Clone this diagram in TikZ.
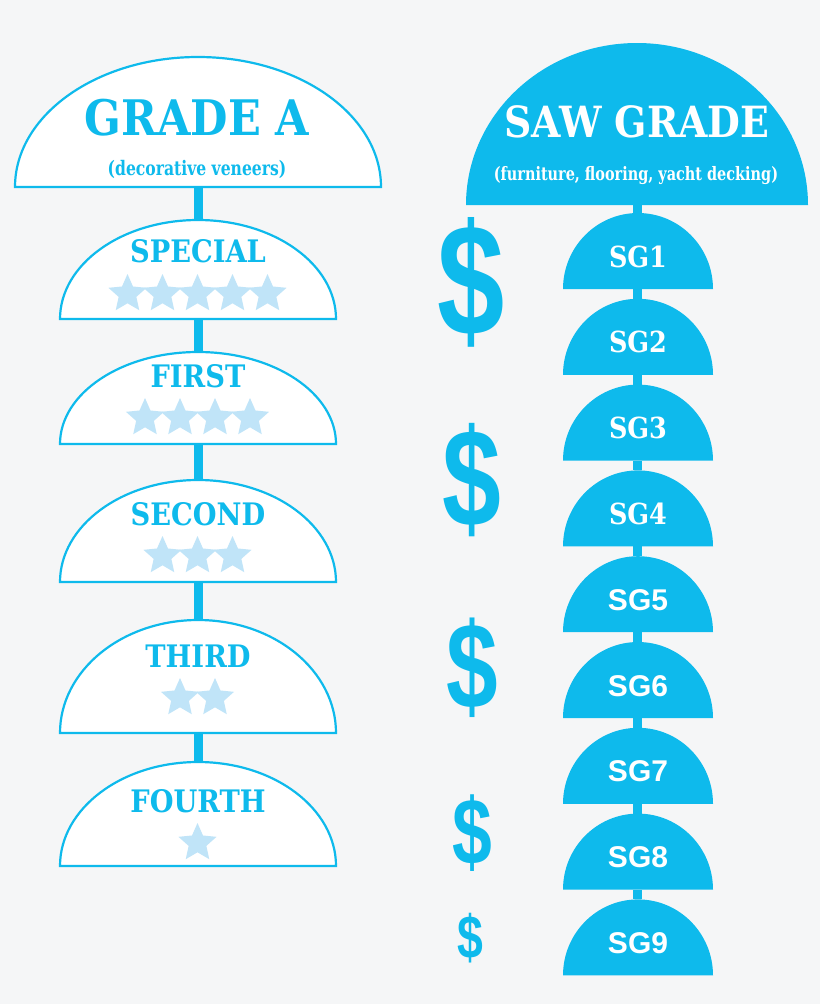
\documentclass[tikz,border=0pt]{standalone}
\usepackage{fontspec}
\usetikzlibrary{shapes.geometric}

\newfontfamily\slabfont{DejaVu Serif}[FakeStretch=0.88]
\newfontfamily\slabnarrow{DejaVu Serif}[FakeStretch=0.78]
\newfontfamily\plainsans{Liberation Sans}
\newfontfamily\dollarfont{Liberation Sans}[FakeStretch=0.76]

\definecolor{gradeblue}{RGB}{14,186,236}
\definecolor{starblue}{RGB}{192,228,248}
\definecolor{paper}{RGB}{245,246,247}

\tikzset{
  stem/.style={gradeblue,line width=9pt},
  hollowdome/.style={draw=gradeblue,fill=white,line width=2.2pt},
  soliddome/.style={fill=gradeblue},
  gradelabel/.style={text=gradeblue,anchor=base,inner sep=0pt,
    font=\slabfont\bfseries\fontsize{31}{31}\selectfont},
  sublabel/.style={anchor=base,inner sep=0pt},
  sglabel/.style={text=white,anchor=base,inner sep=0pt},
  gradestar/.style={star,star points=5,star point ratio=2.15,minimum size=40pt,
    inner sep=0pt,fill=starblue},
  dollar/.style={text=gradeblue,inner sep=0pt,font=\dollarfont\bfseries}
}

\begin{document}
\begin{tikzpicture}[x=1pt,y=-1pt]
  \fill[paper] (0,0) rectangle (820,1004);
  \useasboundingbox (0,0) rectangle (820,1004);

  % grade A column
  \coordinate (gradeA-base) at (198,187);
  \foreach \name/\top/\base in {special/220/319,first/352/444,second/480/582,third/620/733,fourth/762/866}{
    \coordinate (\name-top) at (198,\top);
    \coordinate (\name-base) at (198,\base);
  }
  \foreach \a/\b in {gradeA/special,special/first,first/second,second/third,third/fourth}
    \draw[stem] (\a-base) -- (\b-top);

  \draw[hollowdome] (15,187) arc[start angle=180,end angle=360,x radius=183,y radius=130] -- cycle;
  \node[gradelabel,font=\slabfont\bfseries\fontsize{49}{49}\selectfont] (gradeA) at (197,135) {GRADE A};
  \node[sublabel,text=gradeblue,font=\slabnarrow\bfseries\fontsize{20}{20}\selectfont] (gradeA-sub) at (197,175) {(decorative veneers)};

  \foreach \name/\label/\top/\base/\textY/\starY/\n in
    {special/SPECIAL/220/319/262/294/5,first/FIRST/352/444/387/418/4,
     second/SECOND/480/582/525/556/3,third/THIRD/620/733/667/698/2,
     fourth/FOURTH/762/866/812/843/1}{
    \draw[hollowdome] (60,\base) arc[start angle=180,end angle=360,x radius=138,y radius={\base-\top}] -- cycle;
    \node[gradelabel] (\name) at (198,\textY) {\label};
    \foreach \k in {1,...,\n}
      \node[gradestar] (\name-star\k) at ({197.5+(\k-(\n+1)/2)*35},\starY) {};
  }

  % saw grade column
  \coordinate (saw-base) at (637,205);
  \foreach \i in {1,...,9}{
    \coordinate (sg\i-top) at (637,{213+(\i-1)*85.8});
    \coordinate (sg\i-base) at (637,{289+(\i-1)*85.8});
  }
  \draw[stem] (saw-base) -- (sg1-top);
  \foreach \a/\b in {1/2,2/3,3/4,4/5,5/6,6/7,7/8,8/9}
    \draw[stem] (sg\a-base) -- (sg\b-top);

  \fill[soliddome] (466,205) arc[start angle=180,end angle=360,x radius=171,y radius=162] -- cycle;
  \node[sglabel,font=\slabfont\bfseries\fontsize{43}{43}\selectfont] (saw) at (637,137) {SAW GRADE};
  \node[sublabel,text=white,font=\slabnarrow\bfseries\fontsize{18.5}{18.5}\selectfont] (saw-sub) at (636,180) {(furniture, flooring, yacht decking)};

  \foreach \i in {1,...,9}
    \fill[soliddome] (563,{289+(\i-1)*85.8}) arc[start angle=180,end angle=360,x radius=75,y radius=76] -- cycle;
  \foreach \i in {1,...,4}
    \node[sglabel,font=\slabfont\bfseries\fontsize{29}{29}\selectfont] (sg\i) at (638,{267+(\i-1)*85.8}) {SG\i};
  \foreach \i in {5,...,9}
    \node[sglabel,font=\plainsans\bfseries\fontsize{30}{30}\selectfont] (sg\i) at (638,{267+(\i-1)*85.8}) {SG\i};

  % price scale
  \foreach \i/\x/\y/\s in {1/471/282/159,2/472/480/139,3/472/668/122,4/472/833/94,5/470/938/61}
    \node[dollar] (dollar\i) at (\x,\y) {\fontsize{\s}{\s}\selectfont\$};
\end{tikzpicture}
\end{document}
